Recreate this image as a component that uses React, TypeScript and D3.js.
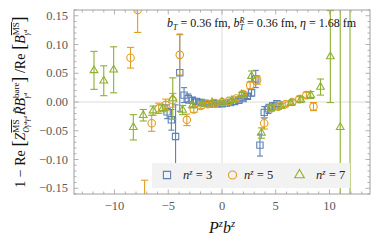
import React from "react";
import * as d3 from "d3";

// P^z b^z for each momentum (b^z = -13 ... 13)
const pzbzN3 = [-5.11, -4.71, -4.32, -3.93, -3.53, -3.14, -2.75, -2.36, -1.96, -1.57, -1.18, -0.79, -0.39, 0, 0.39, 0.79, 1.18, 1.57, 1.96, 2.36, 2.75, 3.14, 3.53, 3.93, 4.32, 4.71, 5.11];
const pzbzN5 = [-8.51, -7.85, -7.2, -6.54, -5.89, -5.24, -4.58, -3.93, -3.27, -2.62, -1.96, -1.31, -0.65, 0, 0.65, 1.31, 1.96, 2.62, 3.27, 3.93, 4.58, 5.24, 5.89, 6.54, 7.2, 7.85, 8.51];
const pzbzN7 = [-11.91, -11.0, -10.08, -9.16, -8.25, -7.33, -6.41, -5.5, -4.58, -3.67, -2.75, -1.83, -0.92, 0, 0.92, 1.83, 2.75, 3.67, 4.58, 5.5, 6.41, 7.33, 8.25, 9.16, 10.08, 11.0, 11.91];

const valN3 = [-0.017, -0.031, -0.06, 0.051, 0.012, 0.006, 0.003, 0.001, -0.001, -0.002, -0.003, -0.003, -0.003, -0.003, -0.002, -0.001, 0.001, 0.003, 0.006, 0.01, 0.016, 0.04, -0.075, -0.018, -0.012, -0.007, -0.003];
const errN3 = [0.012, 0.018, 0.055, 0.067, 0.013, 0.008, 0.005, 0.004, 0.003, 0.003, 0.002, 0.002, 0.002, 0.002, 0.002, 0.002, 0.002, 0.003, 0.003, 0.004, 0.006, 0.015, 0.019, 0.01, 0.008, 0.006, 0.005];

const valN5 = [0.077, 0.16, -0.18, -0.037, -0.011, -0.005, 0.003, 0.082, -0.031, -0.013, -0.007, -0.004, -0.002, 0.0, 0.002, 0.006, 0.014, 0.029, 0.038, -0.037, -0.011, -0.008, -0.004, 0.0, 0.005, 0.012, -0.008];
const errN5 = [0.018, 0.039, 0.044, 0.014, 0.009, 0.01, 0.012, 0.035, 0.01, 0.005, 0.004, 0.003, 0.002, 0.002, 0.002, 0.003, 0.004, 0.006, 0.007, 0.01, 0.005, 0.005, 0.004, 0.004, 0.005, 0.005, 0.007];

const valN7 = [0.055, 0.037, 0.056, 0.24, -0.044, -0.023, -0.015, -0.011, 0.006, -0.014, -0.006, -0.003, -0.001, 0.0, 0.003, 0.013, 0.045, -0.054, -0.01, -0.007, -0.002, 0.004, 0.012, 0.026, 0.079, -0.044, -0.3];
const errN7 = [0.033, 0.026, 0.04, 0.05, 0.022, 0.01, 0.008, 0.006, 0.036, 0.008, 0.004, 0.003, 0.002, 0.002, 0.002, 0.004, 0.009, 0.009, 0.005, 0.004, 0.004, 0.005, 0.006, 0.014, 0.08, 0.5, 0.6];

const xMajor = [-10, -5, 0, 5, 10];
const xMajorLabels = ["\u221210", "\u22125", "0", "5", "10"];
const yMajor = [-0.15, -0.1, -0.05, 0, 0.05, 0.1, 0.15];
const yMajorLabels = ["\u22120.15", "\u22120.10", "\u22120.05", "0.00", "0.05", "0.10", "0.15"];

const W = 382;
const H = 243;
const plot = { left: 74, right: 370, top: 10, bottom: 194 };

const x = d3.scaleLinear().domain([-13.77, 13.77]).range([plot.left, plot.right]);
const y = d3.scaleLinear().domain([-0.16, 0.16]).range([plot.bottom, plot.top]);

const series = [
  { label: "3", xs: pzbzN3, ys: valN3, es: errN3, color: "#5E81B5", shape: d3.symbolSquare, size: 40, cap: 3 },
  { label: "5", xs: pzbzN5, ys: valN5, es: errN5, color: "#E19C24", shape: d3.symbolCircle, size: 44, cap: 3.6 },
  { label: "7", xs: pzbzN7, ys: valN7, es: errN7, color: "#8FB032", shape: d3.symbolTriangle, size: 26, cap: 3.6 },
];

const serif = "Liberation Serif, DejaVu Serif, serif";
const frameColor = "#a0a0a0";
const tickText = "#5a5a5a";

export default function App() {
  const xMinor = d3.range(-13, 14);
  const yMinor = d3.range(-16, 17).map((i) => i / 100);

  return (
    <svg width={W} height={H} style={{ position: "fixed", left: 0, top: 0, background: "#fff", fontFamily: serif }}>
      <defs>
        <clipPath id="plotClip">
          <rect x={plot.left} y={plot.top} width={plot.right - plot.left} height={plot.bottom - plot.top} />
        </clipPath>
      </defs>

      {/* grid lines at zero */}
      <line x1={x(0)} x2={x(0)} y1={plot.top} y2={plot.bottom} stroke="#dcdcdc" strokeWidth={1} />
      <line x1={plot.left} x2={plot.right} y1={y(0)} y2={y(0)} stroke="#dcdcdc" strokeWidth={1} />

      {/* data */}
      <g clipPath="url(#plotClip)">
        {series.map((s) => (
          <g key={s.label} stroke={s.color} fill="none" strokeWidth={1.1}>
            {s.xs.map((xv, i) => {
              const cx = x(xv);
              const lo = y(s.ys[i] - s.es[i]);
              const hi = y(s.ys[i] + s.es[i]);
              return (
                <g key={i}>
                  <line x1={cx} x2={cx} y1={lo} y2={hi} />
                  <line x1={cx - s.cap} x2={cx + s.cap} y1={lo} y2={lo} />
                  <line x1={cx - s.cap} x2={cx + s.cap} y1={hi} y2={hi} />
                  <path d={d3.symbol().type(s.shape).size(s.size)() as string} transform={`translate(${cx},${y(s.ys[i])})`} />
                </g>
              );
            })}
          </g>
        ))}
      </g>

      {/* frame */}
      <rect x={plot.left} y={plot.top} width={plot.right - plot.left} height={plot.bottom - plot.top} fill="none" stroke={frameColor} strokeWidth={1} />

      {/* ticks */}
      <g stroke={frameColor} strokeWidth={0.8}>
        {xMinor.map((v) => {
          const major = v % 5 === 0;
          const len = major ? 4.5 : 2.5;
          return (
            <g key={v}>
              <line x1={x(v)} x2={x(v)} y1={plot.bottom} y2={plot.bottom - len} />
              <line x1={x(v)} x2={x(v)} y1={plot.top} y2={plot.top + len} />
            </g>
          );
        })}
        {yMinor.map((v, i) => {
          const major = Math.round(v * 100) % 5 === 0;
          const len = major ? 4.5 : 2.5;
          return (
            <g key={i}>
              <line x1={plot.left} x2={plot.left + len} y1={y(v)} y2={y(v)} />
              <line x1={plot.right} x2={plot.right - len} y1={y(v)} y2={y(v)} />
            </g>
          );
        })}
      </g>

      {/* tick labels */}
      <g fontSize={12.5} fill={tickText} fontFamily={serif}>
        {xMajor.map((v, i) => (
          <text key={v} x={x(v)} y={210} textAnchor="middle">{xMajorLabels[i]}</text>
        ))}
        {yMajor.map((v, i) => (
          <text key={v} x={68} y={y(v) + 4} textAnchor="end">{yMajorLabels[i]}</text>
        ))}
      </g>

      {/* annotation */}
      <text x={167} y={27} fontSize={12} fill="#111" fontFamily={serif}>
        <tspan fontStyle="italic">b</tspan>
        <tspan fontSize={8} fontStyle="italic" dy={2.5}>T</tspan>
        <tspan dy={-2.5}> = 0.36 fm, </tspan>
        <tspan fontStyle="italic">b</tspan>
        <tspan fontSize={8} fontStyle="italic" dy={-4.5}>R</tspan>
        <tspan fontSize={8} fontStyle="italic" dx={-5} dy={7.5}>T</tspan>
        <tspan dy={-3}> = 0.36 fm, </tspan>
        <tspan fontStyle="italic">η</tspan>
        <tspan> = 1.68 fm</tspan>
      </text>

      {/* legend */}
      <rect x={152} y={163} width={198} height={25} fill="#f2f2f2" />
      {series.map((s, i) => {
        const mx = [167, 232.5, 299.5][i];
        const tx = [183, 244, 316][i];
        return (
          <g key={s.label}>
            <path d={d3.symbol().type(s.shape).size(s.shape === d3.symbolTriangle ? 40 : 52)() as string} transform={`translate(${mx},175)`} fill="none" stroke={s.color} strokeWidth={1.1} />
            <text x={tx} y={179} fontSize={12.5} fill="#222" fontFamily={serif}>
              <tspan fontStyle="italic">n</tspan>
              <tspan fontSize={8.5} fontStyle="italic" dy={-4.5}>z</tspan>
              <tspan dy={4.5}> = {s.label}</tspan>
            </text>
          </g>
        );
      })}

      {/* x label */}
      <text x={222} y={233} fontSize={16} textAnchor="middle" fill="#111" fontFamily={serif}>
        <tspan fontStyle="italic">P</tspan>
        <tspan fontSize={10.5} fontStyle="italic" dy={-6}>z</tspan>
        <tspan fontStyle="italic" dy={6}>b</tspan>
        <tspan fontSize={10.5} fontStyle="italic" dy={-6}>z</tspan>
      </text>

      {/* y label */}
      <text transform={`translate(25,${(plot.top + plot.bottom) / 2}) rotate(-90)`} textAnchor="middle" fontSize={14} fill="#111" fontFamily={serif}>
        <tspan>1 − Re </tspan>
        <tspan fontSize={19}>[</tspan>
        <tspan fontStyle="italic">Z</tspan>
        <tspan fontSize={9} dy={-6} style={{ textDecoration: "overline" }}>MS</tspan>
        <tspan fontSize={7.5} fontStyle="italic" dx={-13} dy={10}>Oγ⁴γ⁴</tspan>
        <tspan fontStyle="italic" dx={1} dy={-4}>R̃B</tspan>
        <tspan fontSize={9} dy={-6}>bare</tspan>
        <tspan fontSize={7.5} fontStyle="italic" dx={-16} dy={10}>γ⁴</tspan>
        <tspan fontSize={19} dx={10} dy={-4}>]</tspan>
        <tspan> /Re </tspan>
        <tspan fontSize={19}>[</tspan>
        <tspan fontStyle="italic">B</tspan>
        <tspan fontSize={9} dy={-6} style={{ textDecoration: "overline" }}>MS</tspan>
        <tspan fontSize={7.5} fontStyle="italic" dx={-13} dy={10}>γ⁴</tspan>
        <tspan fontSize={19} dx={7} dy={-4}>]</tspan>
      </text>
    </svg>
  );
}
